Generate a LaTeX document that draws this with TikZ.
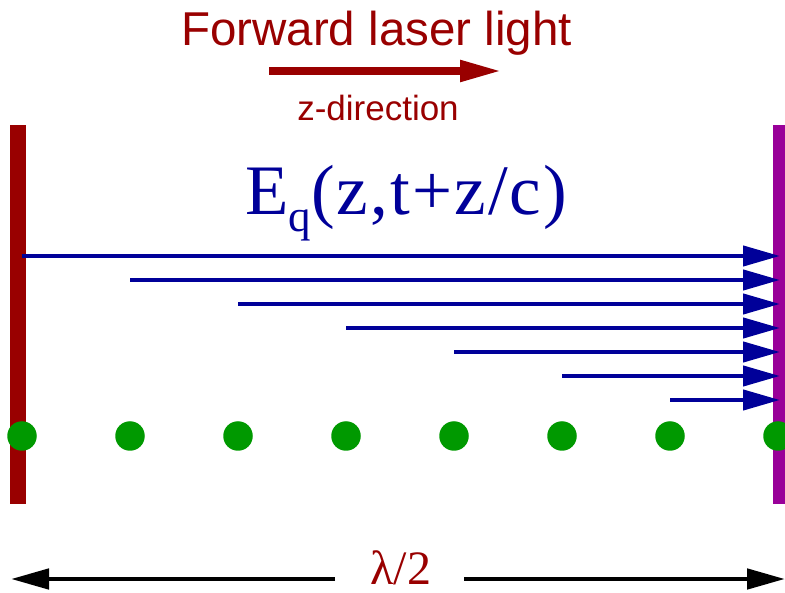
\documentclass[tikz,border=0pt]{standalone}
\usepackage{fontspec}
\setmainfont{Liberation Serif}
\newfontfamily\labelsans{Liberation Sans}
\usetikzlibrary{arrows.meta}
\definecolor{laserred}{HTML}{990000}
\definecolor{fieldblue}{HTML}{000099}
\definecolor{atomgreen}{HTML}{009900}
\definecolor{mirrorpurple}{HTML}{990099}

\begin{document}
\begin{tikzpicture}[x=1pt, y=-1pt,
    atom/.style={circle, fill=atomgreen, minimum size=29.5pt, inner sep=0pt},
    field/.style={line width=4.3pt, fieldblue, -{Triangle[length=37pt,width=20pt]}},
    span/.style={line width=4.8pt, black, -{Triangle[length=38pt,width=20pt]}}]
    \useasboundingbox (0,0) rectangle (785,593);
    % Title and the z-direction arrow
    \node[anchor=base, inner sep=0pt, text=laserred, font=\labelsans\fontsize{47.5}{50}\selectfont] (title) at (376.5,46) {Forward laser light};
    \coordinate (dirA) at (269,71);
    \coordinate (dirB) at (502,71);
    \draw[line width=8pt, laserred, -{Triangle[length=42pt,width=20pt]}] (dirA) -- (dirB);
    \node[anchor=base, inner sep=0pt, text=laserred, font=\labelsans\fontsize{35}{38}\selectfont] (zdir) at (378,121) {z-direction};
    % Mirrors at both ends
    \fill[laserred] (10,125) rectangle (26,504);
    \fill[mirrorpurple] (773,125) rectangle (789,504);
    % Field label
    \node[anchor=base west, inner sep=0pt, text=fieldblue, font=\fontsize{71}{75}\selectfont] (efield) at (245,215)
        {\addfontfeatures{LetterSpace=3}E\raisebox{-17pt}{\fontsize{45}{45}\selectfont q}(z,t+z/c)};
    % Field arrows, each one starting above an atom
    \foreach \k in {0,...,6} {
        \coordinate (fs\k) at (22+108*\k, 256+24*\k);
        \coordinate (fe\k) at (780, 256+24*\k);
        \draw[field] (fs\k) -- (fe\k);
    }
    % Atoms
    \foreach \k in {0,...,7}
        \node[atom] (atom\k) at (22+108*\k, 436) {};
    % Half wavelength span
    \node[anchor=base, inner sep=0pt, text=laserred, font=\fontsize{48}{50}\selectfont] (half) at (401,584) {λ/2};
    \coordinate (gapL) at (335,579);
    \coordinate (gapR) at (464,579);
    \coordinate (spanL) at (11,579);
    \coordinate (spanR) at (785,579);
    \draw[span] (gapL) -- (spanL);
    \draw[span] (gapR) -- (spanR);
\end{tikzpicture}
\end{document}
